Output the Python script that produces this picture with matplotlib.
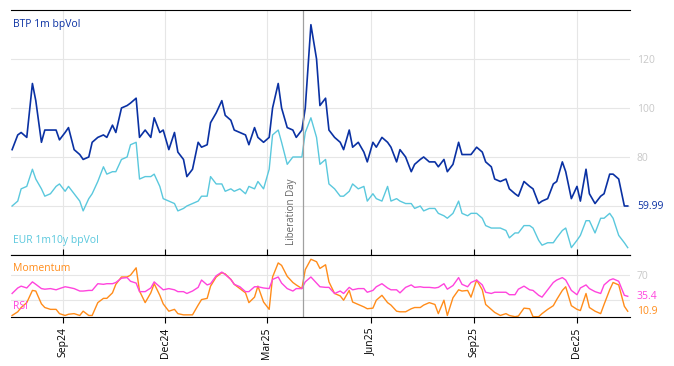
import matplotlib
matplotlib.use("Agg")
import matplotlib.pyplot as plt
import matplotlib.dates as mdates
import pandas as pd

plt.rcParams['font.family'] = ['Open Sans', 'DejaVu Sans']

# ---- data (sampled every 3 business days) ----
start_date = '2024-07-18'
n_points = 131

btp_vol = [83, 89, 90, 88, 110, 103, 86, 91, 91, 91, 87, 90, 92, 83, 81, 79, 80, 86, 88, 89, 88, 93,
           90, 100, 101, 102, 104, 88, 91, 88, 96, 90, 91, 83, 90, 82, 79, 72, 75, 86, 84, 85, 94, 98,
           103, 97, 95, 91, 90, 89, 85, 92, 88, 86, 88, 100, 110, 100, 92, 91, 88, 91, 100, 134, 120, 101,
           104, 91, 88, 86, 83, 91, 84, 86, 82, 78, 86, 84, 88, 86, 84, 78, 83, 80, 74, 77, 79, 80,
           78, 78, 76, 79, 74, 77, 86, 81, 81, 81, 84, 82, 78, 76, 71, 70, 71, 67, 65, 64, 70, 68,
           67, 61, 62, 63, 69, 70, 78, 74, 63, 68, 62, 75, 65, 61, 64, 65, 73, 73, 71, 60, 59.99]

eur_vol = [60, 62, 67, 68, 75, 71, 67, 64, 65, 68, 69, 66, 68, 65, 62, 58, 63, 65, 70, 76, 73, 74,
           74, 79, 80, 85, 86, 71, 72, 72, 73, 68, 63, 62, 61, 58, 59, 60, 61, 62, 64, 64, 72, 69,
           69, 66, 67, 66, 67, 65, 68, 67, 70, 67, 75, 89, 91, 86, 77, 80, 80, 80, 90, 96, 88, 77,
           79, 69, 67, 64, 64, 66, 69, 67, 68, 62, 65, 63, 62, 68, 62, 63, 62, 61, 61, 59, 60, 58,
           59, 59, 57, 56, 55, 57, 62, 57, 56, 57, 57, 55, 52, 51, 51, 51, 50, 47, 49, 49, 52, 52,
           51, 46, 44, 45, 45, 47, 50, 51, 43, 46, 48, 54, 54, 49, 55, 55, 57, 55, 48, 45, 43]

momentum = [4, 10, 17, 25, 45, 44, 23, 17, 14, 14, 7, 4, 6, 7, 4, 11, 4, 4, 25, 32, 32, 41,
            55, 67, 67, 70, 82, 44, 25, 41, 56, 37, 23, 11, 14, 7, 5, 5, 5, 21, 30, 32, 52, 67,
            74, 72, 63, 55, 48, 41, 25, 34, 52, 26, 14, 67, 90, 86, 68, 58, 54, 48, 79, 96, 92, 81,
            87, 59, 40, 36, 29, 45, 26, 22, 18, 15, 16, 29, 37, 25, 21, 11, 10, 10, 15, 17, 17, 21,
            25, 22, 7, 29, 4, 33, 46, 44, 45, 34, 62, 46, 22, 14, 9, 4, 7, 4, 2, 3, 16, 15,
            2, 2, 7, 14, 20, 30, 45, 51, 20, 14, 12, 40, 17, 11, 7, 22, 46, 58, 54, 19, 10.9]

rsi = [40, 49, 52, 49, 59, 55, 48, 47, 48, 46, 48, 51, 50, 48, 44, 44, 45, 45, 56, 55, 56, 56,
       58, 65, 66, 60, 57, 43, 43, 49, 59, 51, 46, 48, 46, 43, 43, 40, 44, 50, 62, 54, 56, 69,
       75, 71, 63, 55, 51, 43, 43, 51, 51, 49, 48, 63, 67, 57, 48, 44, 48, 48, 59, 67, 57, 51,
       50, 50, 40, 44, 40, 50, 46, 48, 48, 42, 45, 51, 56, 49, 46, 46, 41, 50, 54, 50, 51, 50,
       50, 49, 50, 56, 47, 53, 66, 55, 51, 58, 62, 54, 42, 40, 42, 42, 42, 38, 38, 47, 52, 46,
       45, 37, 34, 46, 58, 62, 66, 62, 45, 38, 49, 54, 48, 43, 40, 54, 62, 64, 60, 37, 35.4]

event_date = '2025-04-02'
event_label = 'Liberation Day'
top_ticks = [60, 80, 100, 120]
top_tick_labels = ['', '80', '100', '120']
bot_ticks = [30, 70]
bot_tick_labels = ['', '70']

dates = pd.bdate_range(start_date, periods=n_points, freq='3B')

# ---- styles ----
C_BTP = '#0a31a3'
C_EUR = '#5ac8dd'
C_MOM = '#ff8c1a'
C_RSI = '#ff44dd'
C_GRID = '#e6e6e6'
C_TICK = '#c8c8c8'

fig = plt.figure(figsize=(6.74, 3.66), dpi=100)
ax = fig.add_axes([0.0163, 0.3033, 0.9184, 0.6694])
ax2 = fig.add_axes([0.0163, 0.1339, 0.9184, 0.1694], sharex=ax)

ax.plot(dates, eur_vol, color=C_EUR, lw=1.0)
ax.plot(dates, btp_vol, color=C_BTP, lw=1.2)
ax.set_ylim(40, 140)
ax.set_xlim(pd.Timestamp('2024-07-17'), pd.Timestamp('2026-01-17'))

ax2.plot(dates, momentum, color=C_MOM, lw=1.0)
ax2.plot(dates, rsi, color=C_RSI, lw=1.0)
ax2.set_ylim(1.5, 103)

for a in (ax, ax2):
    a.grid(True, color=C_GRID, lw=0.8)
    a.set_axisbelow(True)
    for s in ('left', 'right'):
        a.spines[s].set_visible(False)
    a.spines['top'].set_color('black')
    a.spines['bottom'].set_color('black')
    a.yaxis.tick_right()
    a.tick_params(axis='y', length=0, labelsize=7.5, labelcolor=C_TICK, pad=5)
    a.axvline(pd.Timestamp(event_date), color='#a0a0a0', lw=0.9)

ax.set_yticks(top_ticks)
ax.set_yticklabels(top_tick_labels)
ax2.set_yticks(bot_ticks)
ax2.set_yticklabels(bot_tick_labels)

ax2.xaxis.set_major_locator(mdates.MonthLocator(bymonth=[3, 6, 9, 12]))
ax2.xaxis.set_major_formatter(mdates.DateFormatter('%b%y'))
ax.tick_params(axis='x', bottom=False, labelbottom=False)
ax2.tick_params(axis='x', top=True, bottom=True, direction='out', length=4,
                labelsize=7.5, labelrotation=90, color='black')

# labels
ax.text(0.003, 0.94, 'BTP 1m bpVol', transform=ax.transAxes, color=C_BTP, fontsize=7.5,
        ha='left', va='center')
ax.text(0.003, 0.06, 'EUR 1m10y bpVol', transform=ax.transAxes, color=C_EUR, fontsize=7.5,
        ha='left', va='center')
ax2.text(0.003, 0.78, 'Momentum', transform=ax2.transAxes, color=C_MOM, fontsize=7.5,
         ha='left', va='center')
ax2.text(0.003, 0.17, 'RSI', transform=ax2.transAxes, color=C_RSI, fontsize=7.5,
         ha='left', va='center')

ax.annotate(f'{btp_vol[-1]:.2f}', xy=(1, btp_vol[-1]), xycoords=('axes fraction', 'data'),
            xytext=(5, 0), textcoords='offset points', color=C_BTP, fontsize=7.5, va='center')
ax2.annotate(f'{rsi[-1]:.1f}', xy=(1, rsi[-1]), xycoords=('axes fraction', 'data'),
             xytext=(5, 0), textcoords='offset points', color=C_RSI, fontsize=7.5, va='center')
ax2.annotate(f'{momentum[-1]:.1f}', xy=(1, momentum[-1]), xycoords=('axes fraction', 'data'),
             xytext=(5, 0), textcoords='offset points', color=C_MOM, fontsize=7.5, va='center')

ax.annotate(event_label, xy=(pd.Timestamp(event_date), 0.04), xycoords=('data', 'axes fraction'),
            xytext=(-4, 0), textcoords='offset points', rotation=90, color='#666666',
            fontsize=7, ha='right', va='bottom')

fig.savefig('out.png', dpi=100)
